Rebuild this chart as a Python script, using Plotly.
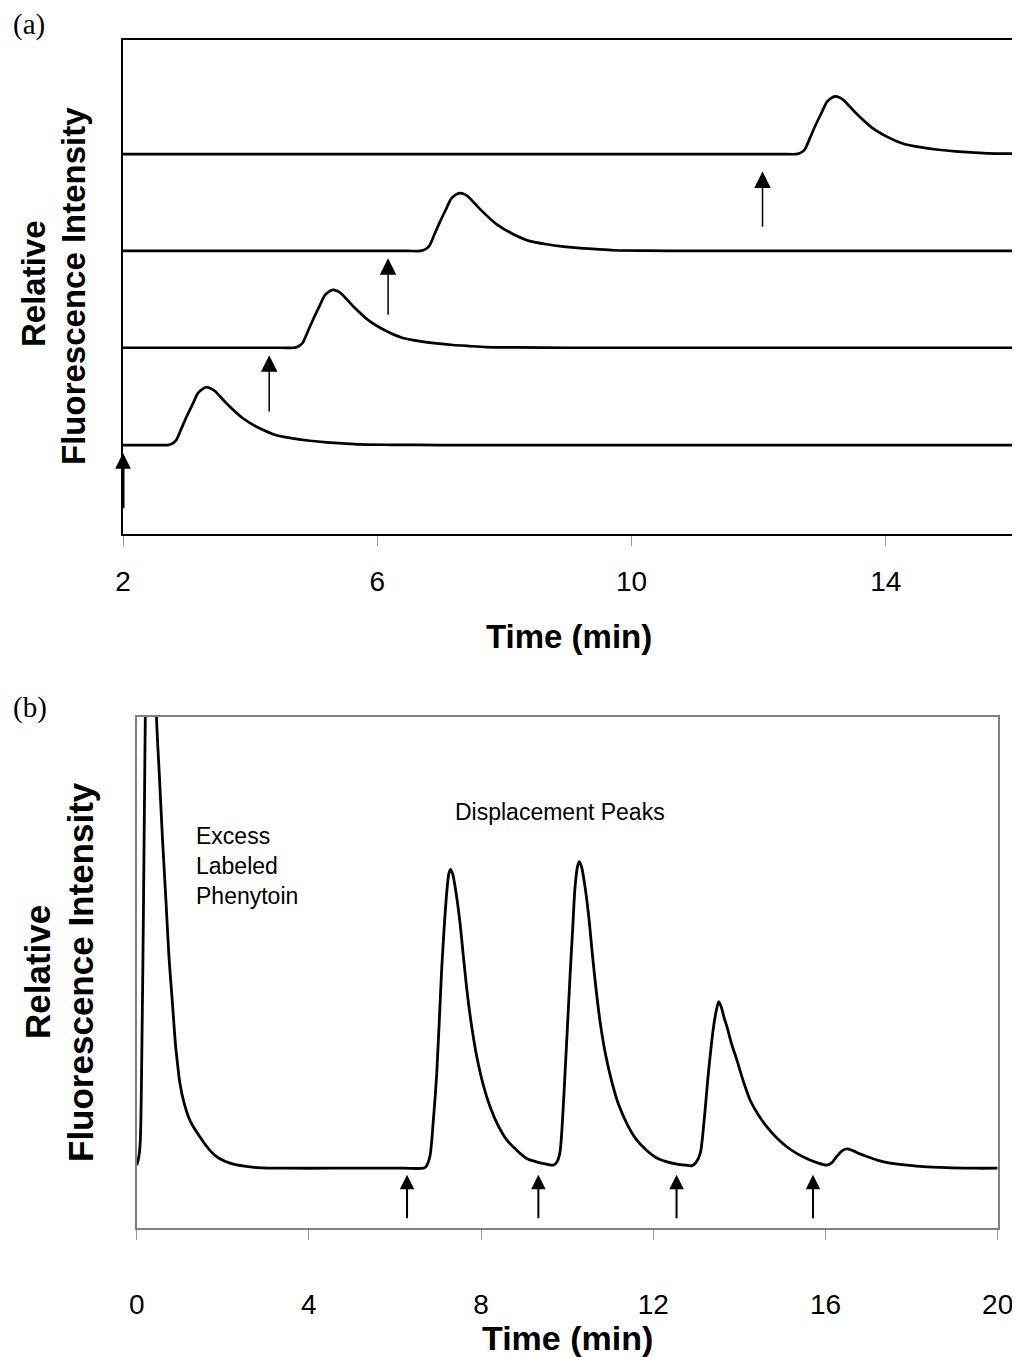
import plotly.graph_objects as go

# ---------------- Panel (a) data: four stacked chromatograms ----------------
a1_time = [2.0, 2.3, 2.55, 2.70, 2.78, 2.84, 2.92, 3.00, 3.10, 3.18, 3.25, 3.31, 3.38, 3.45, 3.63, 3.89,
           4.15, 4.41, 4.67, 4.94, 5.20, 5.45, 5.72, 6.20, 7, 8, 9, 10, 11, 12, 13, 14, 15, 16]
a1_signal = [18.0, 18.0, 18.0, 18.0, 18.35, 19.05, 21.39, 23.73, 26.42, 28.53, 29.35, 29.7, 29.47, 28.88, 26.42, 23.38,
             21.39, 19.99, 19.35, 18.88, 18.56, 18.35, 18.14, 18.06, 18.0, 18.0, 18.0, 18.0, 18.0, 18.0, 18.0, 18.0, 18.0, 18.0]

a2_time = [2.0, 3.0, 4.0, 4.5, 4.69, 4.77, 4.83, 4.91, 4.99, 5.09, 5.17, 5.24, 5.30, 5.37, 5.44, 5.62, 5.88,
           6.14, 6.40, 6.66, 6.93, 7.19, 7.44, 7.71, 8.19, 9, 10, 11, 12, 13, 14, 15, 16]
a2_signal = [37.7, 37.7, 37.7, 37.7, 37.7, 38.05, 38.75, 41.09, 43.43, 46.12, 48.23, 49.05, 49.4, 49.17, 48.58, 46.12, 43.08,
             41.09, 39.69, 39.05, 38.58, 38.26, 38.05, 37.84, 37.76, 37.7, 37.7, 37.7, 37.7, 37.7, 37.7, 37.7, 37.7]

a3_time = [2.0, 3.0, 4.0, 5.0, 6.0, 6.49, 6.68, 6.76, 6.82, 6.90, 6.98, 7.08, 7.16, 7.23, 7.30, 7.37, 7.44, 7.62,
           7.88, 8.14, 8.40, 8.66, 8.93, 9.19, 9.44, 9.71, 10.19, 11, 12, 13, 14, 15, 16]
a3_signal = [57.3, 57.3, 57.3, 57.3, 57.3, 57.3, 57.3, 57.65, 58.35, 60.69, 63.03, 65.72, 67.83, 68.65, 69.0, 68.77, 68.18, 65.72,
             62.68, 60.69, 59.29, 58.65, 58.18, 57.86, 57.65, 57.44, 57.36, 57.3, 57.3, 57.3, 57.3, 57.3, 57.3]

a4_time = [2.0, 3.0, 4.0, 5.0, 6.0, 7.0, 8.0, 9.0, 10.0, 11.0, 12.0, 12.39, 12.59, 12.67, 12.73, 12.81, 12.89, 12.99,
           13.07, 13.14, 13.20, 13.27, 13.34, 13.52, 13.78, 14.04, 14.30, 14.56, 14.83, 15.09, 15.34, 15.61, 16.0]
a4_signal = [76.9, 76.9, 76.9, 76.9, 76.9, 76.9, 76.9, 76.9, 76.9, 76.9, 76.9, 76.9, 76.9, 77.25, 77.95, 80.29, 82.63, 85.32,
             87.43, 88.25, 88.6, 88.37, 87.78, 85.32, 82.28, 80.29, 78.89, 78.25, 77.78, 77.46, 77.25, 77.04, 76.98]

a_arrow_time = [2.0, 4.30, 6.17, 12.06]
a_arrow_base = [4.9, 24.5, 44.1, 61.9]
a_arrow_tip = [16.4, 36.2, 55.8, 73.4]
a_tick_vals = [2, 6, 10, 14]

# ---------------- Panel (b) data: displacement chromatogram ----------------
b_time = [0.0, 0.04, 0.08, 0.12, 0.16, 0.20, 0.30, 0.40, 0.46, 0.53, 0.60, 0.68, 0.75, 0.83, 0.90, 0.95, 1.00,
          1.10, 1.25, 1.47, 1.70, 1.90, 2.20, 2.50, 2.90, 3.5, 4.5, 5.5, 6.2,
          6.66, 6.72, 6.81, 6.89, 6.97, 7.08, 7.14, 7.20, 7.25, 7.29, 7.34, 7.42, 7.51, 7.59, 7.67, 7.78, 7.90,
          8.05, 8.21, 8.40, 8.60, 8.83, 9.06, 9.30, 9.52, 9.68,
          9.76, 9.83, 9.89, 9.95, 10.07, 10.13, 10.18, 10.24, 10.28, 10.33, 10.41, 10.50, 10.58, 10.66, 10.77,
          10.89, 11.04, 11.20, 11.40, 11.60, 11.83, 12.06, 12.30, 12.55, 12.75, 12.90,
          12.99, 13.09, 13.18, 13.28, 13.40, 13.47, 13.52, 13.58, 13.65, 13.71, 13.82, 13.94, 14.10, 14.25, 14.45,
          14.64, 14.87, 15.10, 15.33, 15.56, 15.80, 16.03,
          16.15, 16.26, 16.40, 16.51, 16.65, 16.80, 16.96, 17.20, 17.50, 17.90, 18.27, 18.80, 19.43, 20.0]
b_signal = [12.3, 13.5, 16.4, 35.0, 65.0, 100.0, 160.0, 130.0, 100.0, 88.0, 76.0, 64.0, 53.0, 44.0, 36.0, 32.0, 28.5,
            24.5, 20.8, 17.8, 15.2, 13.7, 12.6, 12.1, 11.75, 11.7, 11.7, 11.7, 11.7,
            11.7, 12.0, 14.0, 21.0, 30.3, 49.9, 58.5, 65.5, 69.3, 70.2, 69.3, 65.5, 59.7, 53.0, 46.6, 39.5, 33.5,
            28.0, 23.7, 20.0, 17.2, 15.2, 13.6, 12.9, 12.5, 12.3,
            12.9, 14.7, 21.0, 30.3, 49.9, 59.0, 66.5, 70.8, 71.7, 70.8, 67.0, 61.0, 54.0, 47.5, 40.0,
            34.0, 28.5, 24.0, 20.2, 17.4, 15.3, 13.8, 13.0, 12.5, 12.3, 12.2,
            12.8, 14.6, 21.0, 30.3, 39.4, 42.8, 44.3, 43.2, 41.0, 39.4, 36.0, 32.9, 28.5, 25.0, 22.0,
            19.8, 17.6, 15.9, 14.6, 13.6, 12.8, 12.3,
            12.8, 14.0, 15.2, 15.5, 15.1, 14.5, 14.0, 13.3, 12.7, 12.3, 12.0, 11.8, 11.7, 11.7]

b_arrow_time = [6.28, 9.33, 12.54, 15.71]
b_arrow_base = [1.6, 1.6, 1.6, 1.6]
b_arrow_tip = [10.4, 10.4, 10.4, 10.4]
b_tick_vals = [0, 4, 8, 12, 16, 20]

W, H = 1020, 1357
OFF = 8  # the page body adds an 8 px margin around the figure
SANS = "Liberation Sans, Arial, sans-serif"
SERIF = "Liberation Serif, Times New Roman, serif"


def px(x):
    return (x - OFF) / W


def py(y):
    return 1 - (y - OFF) / H


fig = go.Figure()
line_a = dict(color="black", width=2.7, shape="spline", smoothing=0.6)
for t, s in [(a1_time, a1_signal), (a2_time, a2_signal), (a3_time, a3_signal), (a4_time, a4_signal)]:
    fig.add_trace(go.Scatter(x=t, y=s, mode="lines", line=line_a, xaxis="x", yaxis="y", hoverinfo="skip"))

fig.add_trace(go.Scatter(x=b_time, y=b_signal, mode="lines",
                         line=dict(color="black", width=2.8, shape="spline", smoothing=0.8),
                         xaxis="x2", yaxis="y2", hoverinfo="skip"))

annotations = []
for i, (t, b, tip) in enumerate(zip(a_arrow_time, a_arrow_base, a_arrow_tip)):
    w = 3 if i == 0 else 1.5
    annotations.append(dict(x=t, y=tip, ax=t, ay=b, xref="x", yref="y", axref="x", ayref="y",
                            text="", showarrow=True, arrowhead=2, arrowsize=1.05 if i == 0 else 2.2,
                            arrowwidth=w, arrowcolor="black", standoff=0))
for t, b, tip in zip(b_arrow_time, b_arrow_base, b_arrow_tip):
    annotations.append(dict(x=t, y=tip, ax=t, ay=b, xref="x2", yref="y2", axref="x2", ayref="y2",
                            text="", showarrow=True, arrowhead=2, arrowsize=1.45,
                            arrowwidth=2, arrowcolor="black", standoff=0))


def txt(text, x, y, size, family=SANS, bold=False, angle=0, xanchor="center", yanchor="middle", align="center"):
    return dict(text=f"<b>{text}</b>" if bold else text, x=px(x), y=py(y), xref="paper", yref="paper",
                showarrow=False, font=dict(family=family, size=size, color="black"),
                textangle=angle, xanchor=xanchor, yanchor=yanchor, align=align)


annotations += [
    txt("(a)", 11, 25, 29, family=SERIF, xanchor="left"),
    txt("(b)", 11, 707, 29, family=SERIF, xanchor="left"),
    txt("Relative", 33, 284, 33, bold=True, angle=-90),
    txt("Fluorescence Intensity", 73, 286, 33, bold=True, angle=-90),
    txt("Time (min)", 569, 636, 33, bold=True),
    txt("Relative", 37, 972, 35, bold=True, angle=-90),
    txt("Fluorescence Intensity", 80, 972, 35, bold=True, angle=-90),
    txt("Time (min)", 567, 1338, 34, bold=True),
    txt("Displacement Peaks", 560, 812, 23),
    txt("Excess<br>Labeled<br>Phenytoin", 194, 866, 23, xanchor="left", align="left"),
]

common_y = dict(showticklabels=False, ticks="", showgrid=False, zeroline=False, showline=True,
                mirror=True, linewidth=2, range=[0, 100], fixedrange=True, automargin=False)
common_x = dict(ticks="outside", ticklen=10, tickwidth=1, tickcolor="#999999", showgrid=False,
                zeroline=False, showline=True, mirror=True, linewidth=2, automargin=False,
                tickfont=dict(family=SANS, size=28, color="black"))

fig.update_layout(
    width=W, height=H, margin=dict(l=0, r=0, t=0, b=0, autoexpand=False),
    paper_bgcolor="white", plot_bgcolor="white", showlegend=False,
    xaxis=dict(domain=[px(123), px(1013)], range=[2, 16], tickvals=a_tick_vals, anchor="y",
               linecolor="black", ticklabelstandoff=11, **common_x),
    yaxis=dict(domain=[py(534), py(40)], anchor="x", linecolor="black", **common_y),
    xaxis2=dict(domain=[px(136.7), px(997.7)], range=[0, 20], tickvals=b_tick_vals, anchor="y2",
                linecolor="#808080", ticklabelstandoff=40, **common_x),
    yaxis2=dict(domain=[py(1228), py(717)], anchor="x2", linecolor="#808080", **common_y),
    annotations=annotations,
)

fig.write_html("out.html")
